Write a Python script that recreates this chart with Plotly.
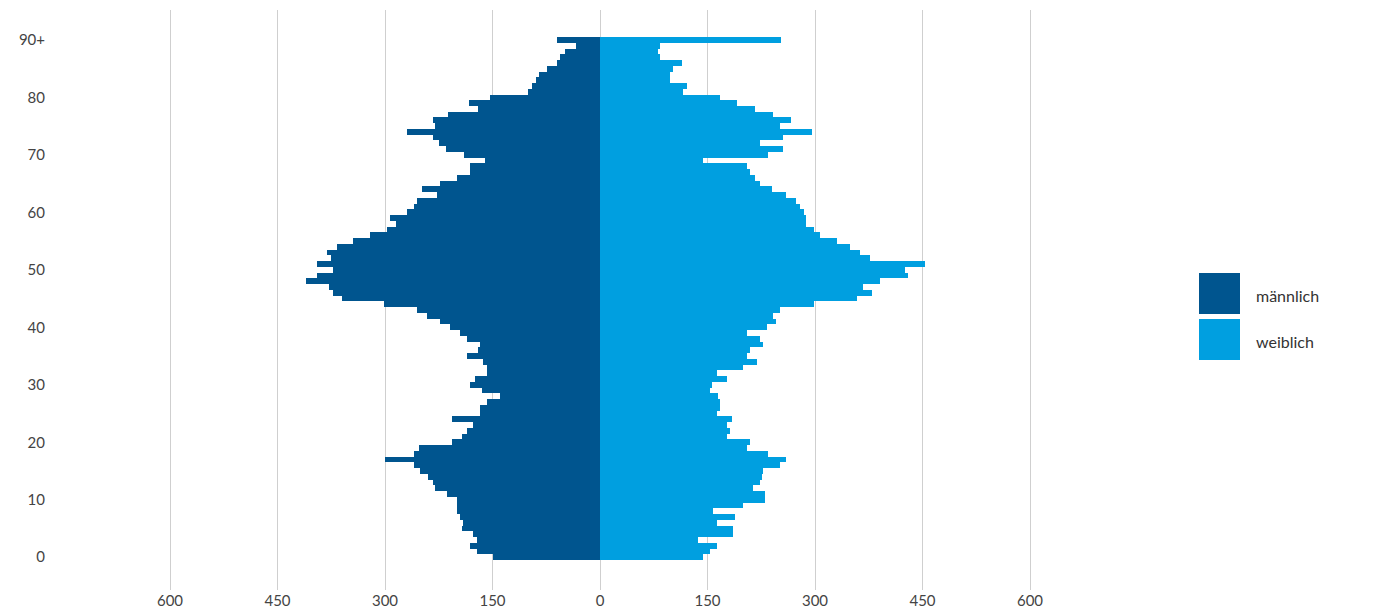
import plotly.graph_objects as go

ages = list(range(0, 91))

maennlich = [149, 172, 181, 172, 177, 193, 191, 195, 200, 200,
             200, 214, 230, 233, 240, 251, 260, 300, 260, 253,
             206, 192, 186, 177, 206, 167, 167, 158, 140, 165,
             181, 175, 158, 158, 163, 185, 170, 167, 186, 195,
             209, 223, 242, 256, 302, 360, 372, 378, 410, 395,
             372, 395, 375, 381, 367, 345, 321, 297, 285, 293,
             270, 260, 255, 228, 248, 223, 200, 181, 181, 160,
             190, 215, 225, 233, 270, 230, 233, 212, 170, 183,
             153, 100, 95, 90, 85, 74, 60, 56, 49, 33,
             60]

weiblich = [144, 153, 163, 137, 186, 186, 163, 188, 158, 200,
            230, 230, 214, 223, 226, 228, 251, 260, 235, 205,
            209, 177, 181, 177, 184, 163, 167, 167, 165, 153,
            156, 177, 163, 200, 219, 205, 209, 228, 223, 205,
            233, 246, 242, 251, 298, 358, 380, 367, 391, 430,
            426, 453, 377, 363, 349, 330, 307, 298, 288, 288,
            284, 279, 274, 260, 240, 223, 216, 209, 205, 144,
            235, 256, 223, 256, 296, 251, 267, 242, 216, 191,
            167, 116, 121, 98, 98, 102, 114, 84, 81, 84,
            253]

y_tickvals = [0, 10, 20, 30, 40, 50, 60, 70, 80, 90]
y_ticktext = ["0", "10", "20", "30", "40", "50", "60", "70", "80", "90+"]
x_tickvals = [-600, -450, -300, -150, 0, 150, 300, 450, 600]
x_ticktext = ["600", "450", "300", "150", "0", "150", "300", "450", "600"]

c_m = "#00558F"
c_w = "#009FE0"

fig = go.Figure()
fig.add_trace(go.Bar(y=ages, x=[-v for v in maennlich], orientation="h",
                     name="männlich", marker=dict(color=c_m, line=dict(width=0)),
                     customdata=maennlich,
                     hovertemplate="Alter %{y}: %{customdata}<extra>männlich</extra>"))
fig.add_trace(go.Bar(y=ages, x=weiblich, orientation="h",
                     name="weiblich", marker=dict(color=c_w, line=dict(width=0)),
                     hovertemplate="Alter %{y}: %{x}<extra>weiblich</extra>"))

font = "Lato, 'Open Sans', sans-serif"
# page body has an 8px margin, so the plot area is placed 8px up/left
L, T, PW, PH = 76, 2, 1032, 580
fig.update_layout(
    width=1373, height=614,
    margin=dict(l=L, r=1373 - L - PW, t=T, b=614 - T - PH),
    paper_bgcolor="white", plot_bgcolor="white",
    barmode="relative", bargap=0,
    showlegend=False,
    font=dict(family=font, size=15, color="#444"),
    xaxis=dict(range=[-720, 720], tickvals=x_tickvals, ticktext=x_ticktext,
               showgrid=True, gridcolor="#cfcfcf", gridwidth=1,
               zeroline=False, showline=False, ticks="", automargin=False,
               tickfont=dict(size=15, color="#444")),
    yaxis=dict(range=[-5.7, 95.2], tickvals=y_tickvals, ticktext=y_ticktext,
               showgrid=False, zeroline=False, showline=False, ticks="",
               ticklabelstandoff=38, automargin=False,
               tickfont=dict(size=15, color="#444")),
    shapes=[
        dict(type="rect", xref="paper", yref="paper",
             x0=(1199 - 84) / PW, x1=(1240 - 84) / PW,
             y0=(590 - 314) / PH, y1=(590 - 273) / PH,
             fillcolor=c_m, line=dict(width=0)),
        dict(type="rect", xref="paper", yref="paper",
             x0=(1199 - 84) / PW, x1=(1240 - 84) / PW,
             y0=(590 - 360) / PH, y1=(590 - 319) / PH,
             fillcolor=c_w, line=dict(width=0)),
    ],
    annotations=[
        dict(text="männlich", xref="paper", yref="paper",
             x=(1254 - 84) / PW, y=(590 - 295) / PH, xanchor="left", yanchor="middle",
             showarrow=False, font=dict(size=16, color="#333", family=font)),
        dict(text="weiblich", xref="paper", yref="paper",
             x=(1254 - 84) / PW, y=(590 - 341) / PH, xanchor="left", yanchor="middle",
             showarrow=False, font=dict(size=16, color="#333", family=font)),
    ],
)

fig.write_html("out.html")
